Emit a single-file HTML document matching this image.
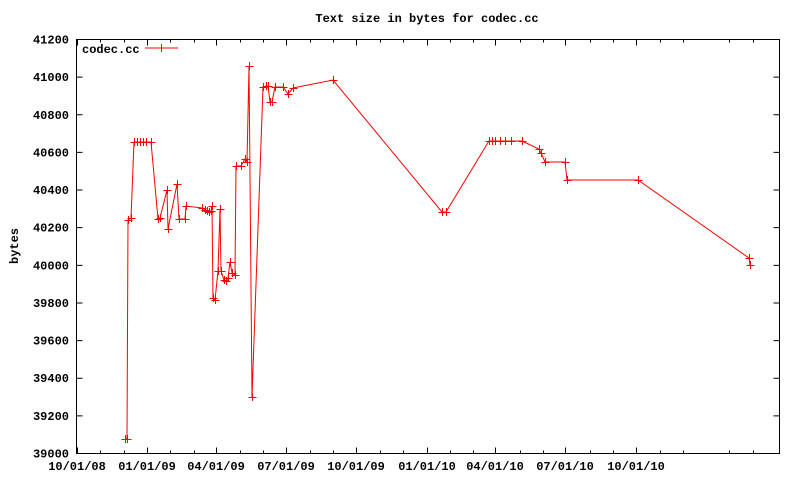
<!DOCTYPE html>
<html><head><meta charset="utf-8"><style>
body{margin:0;background:#fff}
svg{display:block}
text{font-family:"Liberation Mono","DejaVu Sans Mono",monospace;font-size:12px;font-weight:bold;fill:#000}
</style></head><body>
<svg id="s" width="800" height="480" xmlns="http://www.w3.org/2000/svg">
<text x="427" y="22" text-anchor="middle">Text size in bytes for codec.cc</text>
<text transform="translate(18,246) rotate(-90)" text-anchor="middle">bytes</text>
<text x="82" y="53">codec.cc</text>
<g id="ax" stroke="#000" stroke-width="1" fill="none"></g>
<g id="lbl"></g>
<polyline id="pl" fill="none" stroke="#f00" stroke-width="1"/>
<g id="mk" stroke="#f00" stroke-width="1"></g>
<line x1="145" y1="48" x2="178" y2="48" stroke="#f00"/>
<path d="M161.5 44v8M158 48h7" stroke="#f00"/>
</svg>
<script>
const L=76.5,R=779.5,T=39.5,B=453.5;
const ax=document.getElementById('ax'),lbl=document.getElementById('lbl');
let d=`M${L} ${T}H${R}V${B}H${L}Z`;
for(let i=0;i<=11;i++){const y=Math.round(B-i*(B-T)/11)+0.5-0.5;const yy=B-i*(B-T)/11;
d+=`M${L} ${yy}h6M${R} ${yy}h-6`;
lbl.innerHTML+=`<text x="69" y="${yy+4}" text-anchor="end">${39000+i*200}</text>`;}
const xs=[77,147,216,286,356,427,495,565,636];const labs=['10/01/08','01/01/09','04/01/09','07/01/09','10/01/09','01/01/10','04/01/10','07/01/10','10/01/10'];
xs.forEach((x,i)=>{d+=`M${x+.5} ${B}v-6M${x+.5} ${T}v6`;lbl.innerHTML+=`<text x="${x}" y="470" text-anchor="middle">${labs[i]}</text>`;});
for(let m=0;m<36;m++){const x=77+m*23.3;if(x>R)break;if(m%3)d+=`M${Math.round(x)+.5} ${B}v-3M${Math.round(x)+.5} ${T}v3`;}
ax.innerHTML=`<path d="${d}"/>`;
const P=[[125,439],[127,439],[128,220],[131,218],[134,142],[137,142],[140,142],[143,142],[146,142],[151,142],[158,219],[160,218],[167,190],[168,229],[177,184],[179,219],[185,219],[186,206],[202,208],[205,210],[207,211],[209,212],[211,211],[212,206],[213,298],[215,300],[218,271],[220,209],[221,271],[224,280],[226,281],[228,278],[230,262],[232,273],[235,275],[236,166],[241,166],[245,159],[247,162],[249,66],[252,397],[263,87],[266,86],[268,86],[270,102],[272,102],[275,87],[283,87],[288,94],[293,88],[333,80],[442,212],[446,212],[489,141],[492,141],[495,141],[500,141],[505,141],[511,141],[522,141],[539,149],[541,153],[545,162],[565,162],[567,180],[638,180],[749,258],[750,265]];
document.getElementById('pl').setAttribute('points',P.map(p=>p.join(',')).join(' '));
document.getElementById('mk').innerHTML=P.map(([x,y])=>`<path d="M${x+.5} ${y-4}v8M${x-3.5} ${y+.5}h8"/>`).join('');
</script>
</body></html>
